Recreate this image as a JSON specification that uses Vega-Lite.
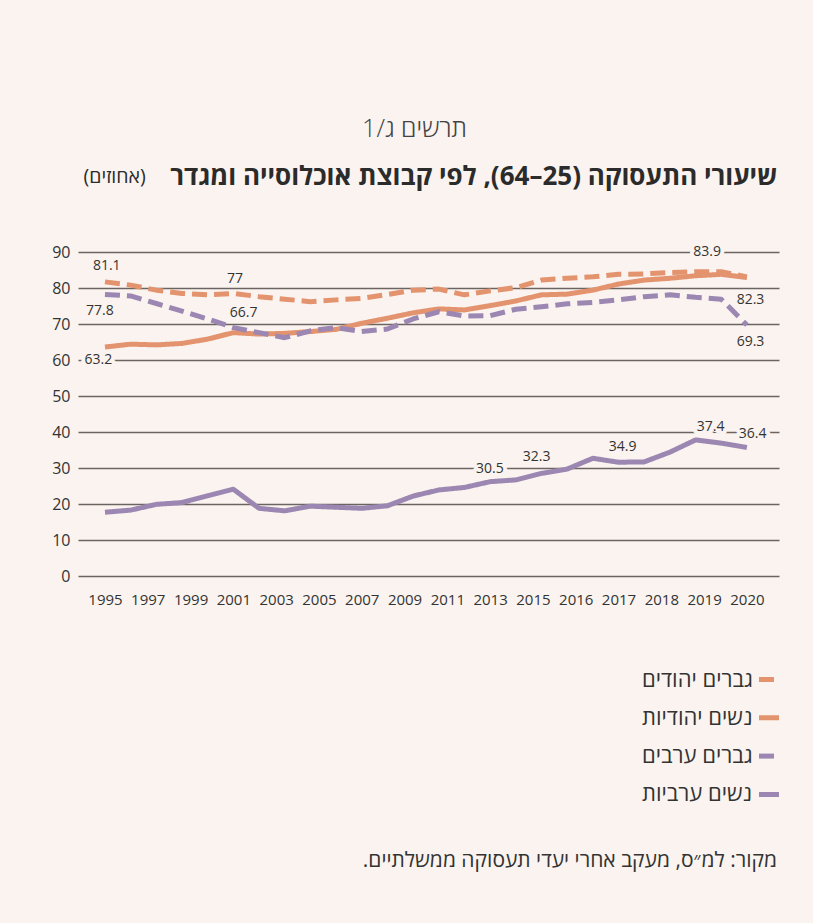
{
  "$schema": "https://vega.github.io/schema/vega-lite/v6.json",
  "width": 701,
  "height": 324,
  "autosize": {"type": "none"},
  "padding": {"left": 78, "top": 252, "right": 34, "bottom": 347},
  "background": "#FAF3EF",
  "config": {
    "font": "Open Sans",
    "view": {"stroke": null},
    "axisY": {
      "values": [0, 10, 20, 30, 40, 50, 60, 70, 80, 90],
      "grid": true,
      "gridColor": "#6b6461",
      "gridWidth": 1.5,
      "domain": false,
      "ticks": false,
      "labelFontSize": 16,
      "labelColor": "#333333",
      "labelPadding": 8,
      "titleAngle": 0,
      "titleX": 699,
      "titleY": -76,
      "titleAlign": "right",
      "titleBaseline": "middle",
      "titleFontSize": 26,
      "titleFontWeight": "bold",
      "titleColor": "#2b2b2b",
      "titleLimit": 900
    }
  },
  "title": {
    "text": "מקור: למ״ס, מעקב אחרי יעדי תעסוקה ממשלתיים.\u200F",
    "orient": "bottom",
    "anchor": "end",
    "frame": "group",
    "dx": -2,
    "offset": 44,
    "fontSize": 21,
    "fontWeight": "normal",
    "color": "#333333"
  },
  "datasets": {
    "series": [
      {"year": 1995, "group": "גברים יהודים", "rate": 81.7},
      {"year": 1996, "group": "גברים יהודים", "rate": 80.8},
      {"year": 1997, "group": "גברים יהודים", "rate": 79.4},
      {"year": 1998, "group": "גברים יהודים", "rate": 78.5},
      {"year": 1999, "group": "גברים יהודים", "rate": 78.1},
      {"year": 2000, "group": "גברים יהודים", "rate": 78.5},
      {"year": 2001, "group": "גברים יהודים", "rate": 77.6},
      {"year": 2002, "group": "גברים יהודים", "rate": 76.9},
      {"year": 2003, "group": "גברים יהודים", "rate": 76.2},
      {"year": 2004, "group": "גברים יהודים", "rate": 76.7},
      {"year": 2005, "group": "גברים יהודים", "rate": 77.1},
      {"year": 2006, "group": "גברים יהודים", "rate": 78.2},
      {"year": 2007, "group": "גברים יהודים", "rate": 79.4},
      {"year": 2008, "group": "גברים יהודים", "rate": 79.7},
      {"year": 2009, "group": "גברים יהודים", "rate": 78.1},
      {"year": 2010, "group": "גברים יהודים", "rate": 79.2},
      {"year": 2011, "group": "גברים יהודים", "rate": 80.1},
      {"year": 2012, "group": "גברים יהודים", "rate": 82.2},
      {"year": 2013, "group": "גברים יהודים", "rate": 82.7},
      {"year": 2014, "group": "גברים יהודים", "rate": 83.1},
      {"year": 2015, "group": "גברים יהודים", "rate": 83.8},
      {"year": 2016, "group": "גברים יהודים", "rate": 83.9},
      {"year": 2017, "group": "גברים יהודים", "rate": 84.3},
      {"year": 2018, "group": "גברים יהודים", "rate": 84.5},
      {"year": 2019, "group": "גברים יהודים", "rate": 84.5},
      {"year": 2020, "group": "גברים יהודים", "rate": 83.1},
      {"year": 1995, "group": "נשים יהודיות", "rate": 63.6},
      {"year": 1996, "group": "נשים יהודיות", "rate": 64.4},
      {"year": 1997, "group": "נשים יהודיות", "rate": 64.2},
      {"year": 1998, "group": "נשים יהודיות", "rate": 64.6},
      {"year": 1999, "group": "נשים יהודיות", "rate": 65.8},
      {"year": 2000, "group": "נשים יהודיות", "rate": 67.6},
      {"year": 2001, "group": "נשים יהודיות", "rate": 67.2},
      {"year": 2002, "group": "נשים יהודיות", "rate": 67.4},
      {"year": 2003, "group": "נשים יהודיות", "rate": 67.9},
      {"year": 2004, "group": "נשים יהודיות", "rate": 68.5},
      {"year": 2005, "group": "נשים יהודיות", "rate": 70.2},
      {"year": 2006, "group": "נשים יהודיות", "rate": 71.6},
      {"year": 2007, "group": "נשים יהודיות", "rate": 73.1},
      {"year": 2008, "group": "נשים יהודיות", "rate": 74.2},
      {"year": 2009, "group": "נשים יהודיות", "rate": 73.9},
      {"year": 2010, "group": "נשים יהודיות", "rate": 75.1},
      {"year": 2011, "group": "נשים יהודיות", "rate": 76.4},
      {"year": 2012, "group": "נשים יהודיות", "rate": 78.1},
      {"year": 2013, "group": "נשים יהודיות", "rate": 78.3},
      {"year": 2014, "group": "נשים יהודיות", "rate": 79.4},
      {"year": 2015, "group": "נשים יהודיות", "rate": 81.1},
      {"year": 2016, "group": "נשים יהודיות", "rate": 82.2},
      {"year": 2017, "group": "נשים יהודיות", "rate": 82.7},
      {"year": 2018, "group": "נשים יהודיות", "rate": 83.4},
      {"year": 2019, "group": "נשים יהודיות", "rate": 83.8},
      {"year": 2020, "group": "נשים יהודיות", "rate": 82.9},
      {"year": 1995, "group": "גברים ערבים", "rate": 78.2},
      {"year": 1996, "group": "גברים ערבים", "rate": 77.8},
      {"year": 1997, "group": "גברים ערבים", "rate": 75.7},
      {"year": 1998, "group": "גברים ערבים", "rate": 73.6},
      {"year": 1999, "group": "גברים ערבים", "rate": 71.4},
      {"year": 2000, "group": "גברים ערבים", "rate": 69.0},
      {"year": 2001, "group": "גברים ערבים", "rate": 67.6},
      {"year": 2002, "group": "גברים ערבים", "rate": 66.2},
      {"year": 2003, "group": "גברים ערבים", "rate": 68.1},
      {"year": 2004, "group": "גברים ערבים", "rate": 69.0},
      {"year": 2005, "group": "גברים ערבים", "rate": 67.9},
      {"year": 2006, "group": "גברים ערבים", "rate": 68.6},
      {"year": 2007, "group": "גברים ערבים", "rate": 71.4},
      {"year": 2008, "group": "גברים ערבים", "rate": 73.4},
      {"year": 2009, "group": "גברים ערבים", "rate": 72.2},
      {"year": 2010, "group": "גברים ערבים", "rate": 72.3},
      {"year": 2011, "group": "גברים ערבים", "rate": 74.1},
      {"year": 2012, "group": "גברים ערבים", "rate": 74.8},
      {"year": 2013, "group": "גברים ערבים", "rate": 75.6},
      {"year": 2014, "group": "גברים ערבים", "rate": 76.0},
      {"year": 2015, "group": "גברים ערבים", "rate": 76.7},
      {"year": 2016, "group": "גברים ערבים", "rate": 77.6},
      {"year": 2017, "group": "גברים ערבים", "rate": 78.1},
      {"year": 2018, "group": "גברים ערבים", "rate": 77.4},
      {"year": 2019, "group": "גברים ערבים", "rate": 76.9},
      {"year": 2020, "group": "גברים ערבים", "rate": 69.7},
      {"year": 1995, "group": "נשים ערביות", "rate": 17.7},
      {"year": 1996, "group": "נשים ערביות", "rate": 18.3},
      {"year": 1997, "group": "נשים ערביות", "rate": 19.9},
      {"year": 1998, "group": "נשים ערביות", "rate": 20.4},
      {"year": 1999, "group": "נשים ערביות", "rate": 22.3},
      {"year": 2000, "group": "נשים ערביות", "rate": 24.1},
      {"year": 2001, "group": "נשים ערביות", "rate": 18.8},
      {"year": 2002, "group": "נשים ערביות", "rate": 18.1},
      {"year": 2003, "group": "נשים ערביות", "rate": 19.4},
      {"year": 2004, "group": "נשים ערביות", "rate": 19.1},
      {"year": 2005, "group": "נשים ערביות", "rate": 18.8},
      {"year": 2006, "group": "נשים ערביות", "rate": 19.5},
      {"year": 2007, "group": "נשים ערביות", "rate": 22.2},
      {"year": 2008, "group": "נשים ערביות", "rate": 23.9},
      {"year": 2009, "group": "נשים ערביות", "rate": 24.6},
      {"year": 2010, "group": "נשים ערביות", "rate": 26.2},
      {"year": 2011, "group": "נשים ערביות", "rate": 26.7},
      {"year": 2012, "group": "נשים ערביות", "rate": 28.5},
      {"year": 2013, "group": "נשים ערביות", "rate": 29.7},
      {"year": 2014, "group": "נשים ערביות", "rate": 32.7},
      {"year": 2015, "group": "נשים ערביות", "rate": 31.6},
      {"year": 2016, "group": "נשים ערביות", "rate": 31.7},
      {"year": 2017, "group": "נשים ערביות", "rate": 34.4},
      {"year": 2018, "group": "נשים ערביות", "rate": 37.8},
      {"year": 2019, "group": "נשים ערביות", "rate": 36.9},
      {"year": 2020, "group": "נשים ערביות", "rate": 35.7}
    ],
    "labels": [
      {"year": 1995.07, "rate": 86.1, "label": "81.1"},
      {"year": 2000.06, "rate": 82.5, "label": "77"},
      {"year": 1994.8, "rate": 73.7, "label": "77.8"},
      {"year": 2000.4, "rate": 73.0, "label": "66.7"},
      {"year": 1994.74, "rate": 60.0, "label": "63.2"},
      {"year": 2018.45, "rate": 89.9, "label": "83.9"},
      {"year": 2020.14, "rate": 76.6, "label": "82.3"},
      {"year": 2020.14, "rate": 64.9, "label": "69.3"},
      {"year": 2009.99, "rate": 29.7, "label": "30.5"},
      {"year": 2011.81, "rate": 33.0, "label": "32.3"},
      {"year": 2015.16, "rate": 35.7, "label": "34.9"},
      {"year": 2018.59, "rate": 41.5, "label": "37.4"},
      {"year": 2020.22, "rate": 39.4, "label": "36.4"}
    ]
  },
  "resolve": {"axis": {"x": "independent"}},
  "layer": [
    {
      "data": {"name": "labels"},
      "mark": {"type": "text", "fontSize": 14, "fill": "#FAF3EF", "stroke": "#FAF3EF", "strokeWidth": 8, "strokeJoin": "round"},
      "encoding": {
        "x": {
          "field": "year",
          "type": "quantitative",
          "scale": {"domain": [1993.95, 2021.25], "nice": false, "zero": false},
          "axis": {
            "orient": "bottom",
            "values": [1995, 1996.6667, 1998.3333, 2000, 2001.6667, 2003.3333, 2005, 2006.6667, 2008.3333, 2010, 2011.6667, 2013.3333, 2015, 2016.6667, 2018.3333, 2020],
            "labelExpr": "['1995','1997','1999','2001','2003','2005','2007','2009','2011','2013','2015','2016','2017','2018','2019','2020'][round((datum.value-1995)*0.6)]",
            "grid": false,
            "domain": false,
            "ticks": false,
            "labelFontSize": 15,
            "labelColor": "#333333",
            "labelPadding": 16,
            "labelFlush": false,
            "labelOverlap": false,
            "title": "(אחוזים)",
            "titleAngle": 0,
            "titleX": 5,
            "titleY": -400,
            "titleAlign": "left",
            "titleBaseline": "middle",
            "titleFontSize": 19.5,
            "titleFontWeight": "normal",
            "titleColor": "#2b2b2b"
          }
        },
        "y": {
          "field": "rate",
          "type": "quantitative",
          "scale": {"domain": [0, 90], "nice": false},
          "axis": {"title": "שיעורי התעסוקה (25–64), לפי קבוצת אוכלוסייה ומגדר"}
        },
        "text": {"field": "label"}
      }
    },
    {
      "data": {"name": "series"},
      "mark": {"type": "line", "strokeWidth": 5, "strokeCap": "butt", "strokeJoin": "round"},
      "encoding": {
        "x": {
          "field": "year",
          "type": "quantitative",
          "scale": {"domain": [1993.95, 2021.25], "nice": false, "zero": false},
          "axis": {
            "orient": "top",
            "labels": false,
            "grid": false,
            "domain": false,
            "ticks": false,
            "title": "תרשים ג/1",
            "titleAngle": 0,
            "titleX": 336,
            "titleY": -124,
            "titleAlign": "center",
            "titleBaseline": "middle",
            "titleFontSize": 25,
            "titleFontWeight": 300,
            "titleColor": "#444444"
          }
        },
        "y": {
          "field": "rate",
          "type": "quantitative",
          "scale": {"domain": [0, 90], "nice": false},
          "axis": {"title": "שיעורי התעסוקה (25–64), לפי קבוצת אוכלוסייה ומגדר"}
        },
        "color": {
          "field": "group",
          "type": "nominal",
          "scale": {
            "domain": ["גברים יהודים", "נשים יהודיות", "גברים ערבים", "נשים ערביות"],
            "range": ["#E3936E", "#E3936E", "#9C87B2", "#9C87B2"]
          },
          "legend": {
            "orient": "none",
            "legendX": 564,
            "legendY": 415,
            "title": null,
            "symbolType": "stroke",
            "symbolSize": 400,
            "symbolStrokeWidth": 5,
            "symbolOffset": 114.5,
            "labelAlign": "left",
            "labelOffset": -139.5,
            "labelFontSize": 22,
            "labelColor": "#333333",
            "labelLimit": 300,
            "rowPadding": 14.3,
            "encode": {
              "symbols": {
                "update": {
                  "strokeDash": {"signal": "indexof(datum.value, 'גברים') === 0 ? [7.5, 5] : [1, 0]"}
                }
              }
            }
          }
        },
        "strokeDash": {
          "field": "group",
          "type": "nominal",
          "scale": {
            "domain": ["גברים יהודים", "נשים יהודיות", "גברים ערבים", "נשים ערביות"],
            "range": [[15, 7], [1, 0], [15, 7], [1, 0]]
          },
          "legend": null
        }
      }
    },
    {
      "data": {"name": "labels"},
      "mark": {"type": "text", "fontSize": 14, "fill": "#333333"},
      "encoding": {
        "x": {"field": "year", "type": "quantitative", "scale": {"domain": [1993.95, 2021.25], "nice": false, "zero": false}, "axis": null},
        "y": {
          "field": "rate",
          "type": "quantitative",
          "scale": {"domain": [0, 90], "nice": false},
          "axis": {"title": "שיעורי התעסוקה (25–64), לפי קבוצת אוכלוסייה ומגדר"}
        },
        "text": {"field": "label"}
      }
    }
  ]
}
